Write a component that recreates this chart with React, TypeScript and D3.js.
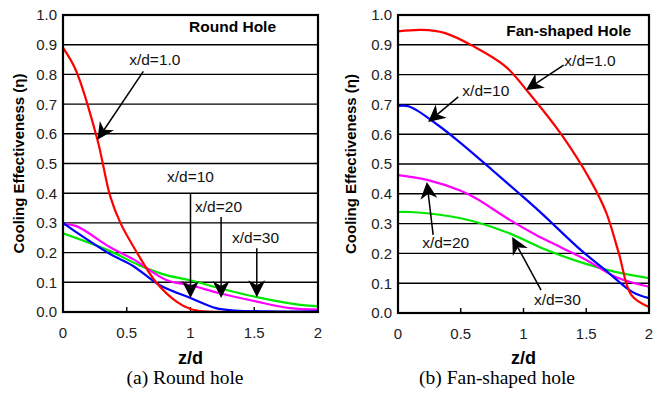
import React, { useRef, useEffect } from 'react';
import * as d3 from 'd3';

// axis ticks
const zTicks = [0, 0.5, 1, 1.5, 2];
const etaTicks = [0, 0.1, 0.2, 0.3, 0.4, 0.5, 0.6, 0.7, 0.8, 0.9, 1.0];

// (a) round hole
const roundX1Z = [0, 0.1, 0.27, 0.37, 0.45, 0.58, 0.73, 0.89, 1.0, 1.1, 1.5, 2.0];
const roundX1Eta = [0.89, 0.815, 0.58, 0.39, 0.3, 0.2, 0.1, 0.035, 0.01, 0.002, 0, 0];
const roundX10Z = [0, 0.1, 0.37, 0.55, 0.76, 1.0, 1.2, 1.35, 1.6, 2.0];
const roundX10Eta = [0.3, 0.27, 0.195, 0.155, 0.09, 0.047, 0.013, 0.005, 0.002, 0.002];
const roundX20Z = [0, 0.1, 0.37, 0.55, 0.81, 1.0, 1.23, 1.52, 1.78, 2.0];
const roundX20Eta = [0.295, 0.29, 0.218, 0.178, 0.108, 0.09, 0.063, 0.035, 0.013, 0.008];
const roundX30Z = [0, 0.37, 0.6, 0.81, 1.0, 1.23, 1.52, 1.86, 2.0];
const roundX30Eta = [0.265, 0.205, 0.157, 0.124, 0.107, 0.08, 0.05, 0.024, 0.02];

// (b) fan-shaped hole
const fanX1Z = [0, 0.19, 0.37, 0.61, 0.86, 1.04, 1.3, 1.54, 1.66, 1.76, 1.86, 2.0];
const fanX1Eta = [0.945, 0.95, 0.94, 0.893, 0.826, 0.74, 0.6, 0.44, 0.336, 0.2, 0.06, 0.02];
const fanX10Z = [0, 0.09, 0.32, 0.5, 0.75, 0.98, 1.14, 1.46, 1.65, 1.87, 2.0];
const fanX10Eta = [0.695, 0.693, 0.63, 0.57, 0.48, 0.396, 0.336, 0.21, 0.145, 0.07, 0.05];
const fanX20Z = [0, 0.24, 0.5, 0.62, 0.9, 1.1, 1.3, 1.5, 1.74, 2.0];
const fanX20Eta = [0.463, 0.446, 0.41, 0.385, 0.31, 0.262, 0.22, 0.178, 0.12, 0.088];
const fanX30Z = [0, 0.1, 0.5, 0.86, 1.18, 1.46, 1.74, 2.0];
const fanX30Eta = [0.339, 0.339, 0.318, 0.272, 0.212, 0.17, 0.137, 0.117];

const colors = ['#ff0000', '#0000ff', '#ff00ff', '#00e800'];

const zip = (z: number[], e: number[]) => z.map((v, i) => [v, e[i]] as [number, number]);

const panels = [
  {
    id: 'a', title: 'Round Hole', caption: '(a) Round hole',
    left: 63, right: 318, top: 15, bottom: 312,
    yTitleX: 19, captionX: 185,
    titlePos: [1.33, 0.96],
    // draw order: green, magenta, blue, red
    series: [
      { c: colors[3], pts: zip(roundX30Z, roundX30Eta) },
      { c: colors[2], pts: zip(roundX20Z, roundX20Eta) },
      { c: colors[1], pts: zip(roundX10Z, roundX10Eta) },
      { c: colors[0], pts: zip(roundX1Z, roundX1Eta) },
    ],
    labels: [
      { t: 'x/d=1.0', z: 0.72, e: 0.85 },
      { t: 'x/d=10', z: 1.0, e: 0.455 },
      { t: 'x/d=20', z: 1.22, e: 0.354 },
      { t: 'x/d=30', z: 1.51, e: 0.25 },
    ],
    arrows: [
      [0.63, 0.81, 0.27, 0.58],
      [1.0, 0.4, 1.0, 0.047],
      [1.24, 0.32, 1.24, 0.047],
      [1.52, 0.215, 1.52, 0.05],
    ],
  },
  {
    id: 'b', title: 'Fan-shaped Hole', caption: '(b) Fan-shaped hole',
    left: 398, right: 649, top: 15, bottom: 313,
    yTitleX: 351, captionX: 497,
    titlePos: [1.36, 0.948],
    series: [
      { c: colors[3], pts: zip(fanX30Z, fanX30Eta) },
      { c: colors[2], pts: zip(fanX20Z, fanX20Eta) },
      { c: colors[1], pts: zip(fanX10Z, fanX10Eta) },
      { c: colors[0], pts: zip(fanX1Z, fanX1Eta) },
    ],
    labels: [
      { t: 'x/d=1.0', z: 1.53, e: 0.846 },
      { t: 'x/d=10', z: 0.7, e: 0.748 },
      { t: 'x/d=20', z: 0.38, e: 0.238 },
      { t: 'x/d=30', z: 1.27, e: 0.044 },
    ],
    arrows: [
      [1.32, 0.832, 1.02, 0.748],
      [0.48, 0.725, 0.24, 0.641],
      [0.28, 0.262, 0.23, 0.44],
      [1.14, 0.077, 0.91, 0.255],
    ],
  },
];

const FONT = "'Liberation Sans', Arial, sans-serif";

function drawArrow(g: any, x1: number, y1: number, x2: number, y2: number) {
  const dx = x2 - x1, dy = y2 - y1;
  const len = Math.hypot(dx, dy);
  const ux = dx / len, uy = dy / len;
  const nx = -uy, ny = ux;
  const L = 17, W = 8.5, N = 5;
  const bx = x2 - ux * (L - N), by = y2 - uy * (L - N);
  g.append('line')
    .attr('x1', x1).attr('y1', y1).attr('x2', bx).attr('y2', by)
    .attr('stroke', '#000').attr('stroke-width', 1.5);
  const p = d3.path();
  p.moveTo(x2, y2);
  p.lineTo(x2 - ux * L + nx * W, y2 - uy * L + ny * W);
  p.lineTo(bx, by);
  p.lineTo(x2 - ux * L - nx * W, y2 - uy * L - ny * W);
  p.closePath();
  g.append('path').attr('d', p.toString()).attr('fill', '#000');
}

export default function App() {
  const svgRef = useRef<SVGSVGElement>(null);

  useEffect(() => {
    const svg = d3.select(svgRef.current);
    svg.selectAll('*').remove();
    svg.append('rect').attr('width', 658).attr('height', 393).attr('fill', '#fff');
    const defs = svg.append('defs');

    panels.forEach(p => {
      const x = d3.scaleLinear().domain([0, 2]).range([p.left, p.right]);
      const y = d3.scaleLinear().domain([0, 1]).range([p.bottom, p.top]);
      const g = svg.append('g').style('font-family', FONT);

      defs.append('clipPath').attr('id', `clip-${p.id}`)
        .append('rect')
        .attr('x', p.left).attr('y', p.top)
        .attr('width', p.right - p.left).attr('height', p.bottom - p.top);

      g.append('g').selectAll('line')
        .data(etaTicks.filter(t => t > 0.05 && t < 0.95))
        .join('line')
        .attr('x1', p.left).attr('x2', p.right)
        .attr('y1', d => y(d)).attr('y2', d => y(d))
        .attr('stroke', '#000').attr('stroke-width', 1.4);

      g.append('g').selectAll('line')
        .data(zTicks.filter(t => t > 0 && t < 2))
        .join('line')
        .attr('x1', d => x(d)).attr('x2', d => x(d))
        .attr('y1', p.bottom).attr('y2', p.bottom - 5)
        .attr('stroke', '#000').attr('stroke-width', 1.4);

      g.append('g').selectAll('text')
        .data(etaTicks)
        .join('text')
        .attr('x', p.left - 6).attr('y', d => y(d))
        .attr('dy', '0.36em')
        .attr('text-anchor', 'end')
        .style('font-size', '15px').attr('fill', '#222')
        .text(d => d.toFixed(1));

      g.append('g').selectAll('text')
        .data(zTicks)
        .join('text')
        .attr('x', d => x(d)).attr('y', p.bottom + 21)
        .attr('dy', '0.36em')
        .attr('text-anchor', 'middle')
        .style('font-size', '15px').attr('fill', '#222')
        .text(d => String(d));

      const line = d3.line<[number, number]>()
        .x(d => x(d[0])).y(d => y(d[1]))
        .curve(d3.curveCatmullRom.alpha(0.5));

      g.append('g').attr('clip-path', `url(#clip-${p.id})`)
        .selectAll('path')
        .data(p.series)
        .join('path')
        .attr('d', d => line(d.pts))
        .attr('fill', 'none')
        .attr('stroke', d => d.c)
        .attr('stroke-width', 2.2)
        .attr('stroke-linejoin', 'round');

      g.append('rect')
        .attr('x', p.left).attr('y', p.top)
        .attr('width', p.right - p.left).attr('height', p.bottom - p.top)
        .attr('fill', 'none').attr('stroke', '#000').attr('stroke-width', 2.2);

      g.append('text')
        .attr('x', x(p.titlePos[0])).attr('y', y(p.titlePos[1]))
        .attr('dy', '0.36em').attr('text-anchor', 'middle')
        .style('font-size', '15.5px').style('font-weight', 'bold')
        .text(p.title);

      g.append('g').selectAll('text')
        .data(p.labels)
        .join('text')
        .attr('x', d => x(d.z)).attr('y', d => y(d.e))
        .attr('dy', '0.36em').attr('text-anchor', 'middle')
        .style('font-size', '15.5px').attr('fill', '#111')
        .text(d => d.t);

      const ag = g.append('g');
      p.arrows.forEach(a => drawArrow(ag, x(a[0]), y(a[1]), x(a[2]), y(a[3])));

      g.append('text')
        .attr('transform', `translate(${p.yTitleX},${(p.top + p.bottom) / 2}) rotate(-90)`)
        .attr('dy', '0.36em').attr('text-anchor', 'middle')
        .style('font-size', '15px').style('font-weight', 'bold')
        .text('Cooling Effectiveness (η)');

      g.append('text')
        .attr('x', (p.left + p.right) / 2).attr('y', 358)
        .attr('dy', '0.36em').attr('text-anchor', 'middle')
        .style('font-size', '18px').style('font-weight', 'bold')
        .text('z/d');

      g.append('text')
        .attr('x', p.captionX).attr('y', 384)
        .attr('text-anchor', 'middle')
        .style('font-family', "'Liberation Serif', 'Times New Roman', serif")
        .style('font-size', '19.5px')
        .text(p.caption);
    });
  }, []);

  return (
    <svg
      ref={svgRef}
      width={658}
      height={393}
      viewBox="0 0 658 393"
      style={{ position: 'absolute', left: 0, top: 0 }}
    />
  );
}
